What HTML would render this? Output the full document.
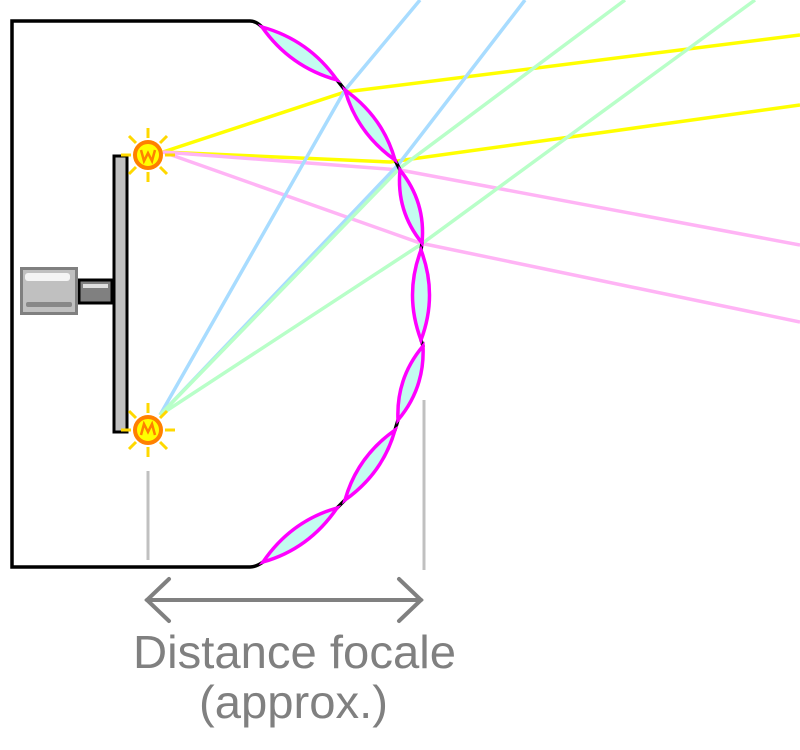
<!DOCTYPE html>
<html><head><style>html,body{margin:0;padding:0;background:#fff;}svg{display:block}</style></head>
<body>
<svg width="800" height="750" viewBox="0 0 800 750" xmlns="http://www.w3.org/2000/svg">
<!-- rays -->
<g stroke-width="3.5" fill="none">
<polyline stroke="#ffff00" points="163,152 345,92 800,35"/>
<polyline stroke="#ffff00" points="163,152 390,162 800,105"/>
<polyline stroke="#ffb4f5" points="163,152 400,170 800,245"/>
<polyline stroke="#ffb4f5" points="163,152 420,243 800,322"/>
<polyline stroke="#a8dcff" points="160,415 345,90 420,0"/>
<polyline stroke="#a8dcff" points="160,415 398,165 525,0"/>
<polyline stroke="#b8ffc8" points="160,415 400,168 625,0"/>
<polyline stroke="#b8ffc8" points="160,415 420,245 755,0"/>
</g>
<!-- housing -->
<path d="M262,27 Q256,21 250,21 H12 V567 H250 Q256,567 263,562" fill="none" stroke="#000" stroke-width="3.5"/>
<polyline points="262,27 337,80 345,90 395,160 400,170 422,243 421,250 421,340 423,346 398,420 395,430 345,500 337,508 263,562" fill="none" stroke="#000" stroke-width="3.5"/>
<!-- lenses -->
<g fill="#c4fbf0" stroke="#ff00ff" stroke-width="3.5">
<path d="M262,27 Q290,67 337,80 Q309,40 262,27Z"/>
<path d="M345,90 Q357,133 395,160 Q383,117 345,90Z"/>
<path d="M400,170 Q396,211 422,243 Q426,202 400,170Z"/>
<path d="M421,250 Q404,295 421,340 Q438,295 421,250Z"/>
<path d="M423,346 Q425,388 398,420 Q396,378 423,346Z"/>
<path d="M395,430 Q383,473 345,500 Q357,457 395,430Z"/>
<path d="M337,508 Q309,549 263,562 Q291,521 337,508Z"/>
</g>
<!-- plate -->
<rect x="114" y="156" width="13" height="276" fill="#c0c0c0" stroke="#000" stroke-width="3"/>
<!-- connector -->
<rect x="79" y="280" width="33" height="23" fill="#808080" stroke="#000" stroke-width="3"/>
<rect x="83" y="284" width="25" height="4" fill="#e0e0e0"/>
<!-- motor -->
<rect x="21.5" y="268.5" width="55" height="45" fill="#c0c0c0" stroke="#808080" stroke-width="3"/>
<rect x="25" y="273" width="45" height="8" rx="3" fill="#f4f4f4"/>
<rect x="26" y="302" width="46" height="5" rx="2" fill="#888"/>
<!-- suns -->
<g transform="translate(148,155)">
<g stroke="#ffd800" stroke-width="3">
<line x1="0" y1="-17" x2="0" y2="-27"/><line x1="0" y1="17" x2="0" y2="27"/>
<line x1="-17" y1="0" x2="-27" y2="0"/><line x1="17" y1="0" x2="27" y2="0"/>
<line x1="12" y1="12" x2="19" y2="19"/><line x1="-12" y1="12" x2="-19" y2="19"/>
<line x1="12" y1="-12" x2="19" y2="-19"/><line x1="-12" y1="-12" x2="-19" y2="-19"/>
</g>
<circle r="13" fill="#ffff00" stroke="#ff8000" stroke-width="4"/>
<path d="M-7,-5 L-4,6 L0,-2 L4,6 L7,-5" fill="none" stroke="#ff8000" stroke-width="2.5"/>
</g>
<g transform="translate(148,430)">
<g stroke="#ffd800" stroke-width="3">
<line x1="0" y1="-17" x2="0" y2="-27"/><line x1="0" y1="17" x2="0" y2="27"/>
<line x1="-17" y1="0" x2="-27" y2="0"/><line x1="17" y1="0" x2="27" y2="0"/>
<line x1="12" y1="12" x2="19" y2="19"/><line x1="-12" y1="12" x2="-19" y2="19"/>
<line x1="12" y1="-12" x2="19" y2="-19"/><line x1="-12" y1="-12" x2="-19" y2="-19"/>
</g>
<circle r="13" fill="#ffff00" stroke="#ff8000" stroke-width="4"/>
<path d="M-7,5 L-4,-6 L0,2 L4,-6 L7,5" fill="none" stroke="#ff8000" stroke-width="2.5"/>
</g>
<!-- dimension -->
<line x1="148" y1="471" x2="148" y2="560" stroke="#c0c0c0" stroke-width="3"/>
<line x1="424" y1="400" x2="424" y2="570" stroke="#c0c0c0" stroke-width="3"/>
<g stroke="#808080" stroke-width="4" fill="none" stroke-linecap="round">
<line x1="147" y1="600" x2="421" y2="600"/>
<polyline points="169,579 147,600 169,621"/>
<polyline points="399,579 421,600 399,621"/>
</g>
<text x="133" y="668" textLength="323" lengthAdjust="spacingAndGlyphs" font-family="Liberation Sans, sans-serif" font-size="46" fill="#808080">Distance focale</text>
<text x="199" y="718" textLength="189" lengthAdjust="spacingAndGlyphs" font-family="Liberation Sans, sans-serif" font-size="46" fill="#808080">(approx.)</text>
</svg>
</body></html>
